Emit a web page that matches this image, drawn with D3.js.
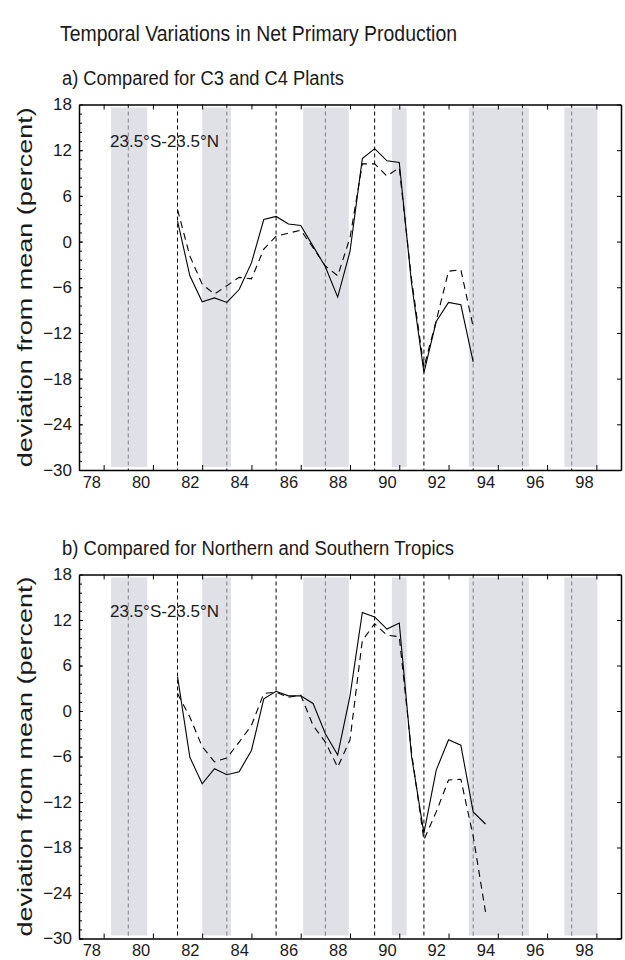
<!DOCTYPE html>
<html>
<head>
<meta charset="utf-8">
<script src="https://cdn.jsdelivr.net/npm/d3@7"></script>
<style>
  body { margin: 0; background: #fff; }
  text { font-family: "Liberation Sans", Arial, Helvetica, sans-serif; fill: #1a1a1a; }
</style>
</head>
<body>
<script>
// half-year time steps (axis label units: "80" = 1980)
const years = [81.5, 82, 82.5, 83, 83.5, 84, 84.5, 85, 85.5, 86, 86.5, 87, 87.5,
               88, 88.5, 89, 89.5, 90, 90.5, 91, 91.5, 92, 92.5, 93, 93.5, 94];

// a) C3 vs C4 plants (percent deviation)
const c3Values = [2.7, -4.5, -7.9, -7.4, -8.0, -6.3, -2.8, 2.9, 3.3, 2.3, 2.1, -0.6, -3.3,
                  -7.3, -1.3, 10.9, 12.2, 10.6, 10.4, -5.5, -17.2, -10.5, -8.0, -8.3, -15.8];
const c4Values = [4.2, -1.9, -5.6, -6.9, -5.8, -4.7, -4.9, -1.0, 0.7, 1.1, 1.5, -0.8, -3.2,
                  -4.5, 0.5, 10.2, 10.2, 8.6, 9.7, -5.0, -16.5, -10.4, -3.9, -3.7, -11.2];

// b) northern vs southern tropics
const northValues = [4.5, -6.1, -9.6, -7.6, -8.4, -8.0, -5.2, 1.6, 2.6, 2.0, 2.0, 1.0, -3.0,
                     -5.8, 2.0, 13.0, 12.4, 10.8, 11.6, -6.0, -16.1, -7.8, -3.8, -4.5, -13.3, -14.9];
const southValues = [2.3, -0.8, -4.7, -6.7, -6.2, -4.1, -1.9, 2.3, 2.5, 1.8, 2.1, -1.9, -4.1,
                     -7.4, -3.8, 9.3, 11.5, 10.0, 9.8, -5.5, -17.0, -13.3, -9.1, -9.0, -16.5, -26.5];

// shaded periods and dashed year markers
const bands = [[78.8, 80.27], [82.5, 83.67], [86.6, 88.45], [90.2, 90.8], [93.32, 95.76], [97.2, 98.54]];
const markerYears = [79.5, 81.5, 83.5, 85.5, 87.5, 89.5, 91.5, 93.5, 95.5, 97.5];

const xLabels = [78, 80, 82, 84, 86, 88, 90, 92, 94, 96, 98];
const xTickMarks = [78.5, 80.5, 82.5, 84.5, 86.5, 88.5, 90.5, 92.5, 94.5, 96.5, 98.5];
const yTicks = [18, 12, 6, 0, -6, -12, -18, -24, -30];

const W = 625, H = 960;
const svg = d3.select("body").append("svg").attr("width", W).attr("height", H);

const x = d3.scaleLinear().domain([77.5, 99.5]).range([79, 621]);

svg.append("text")
  .attr("x", 60).attr("y", 41)
  .attr("font-size", 22)
  .attr("textLength", 397).attr("lengthAdjust", "spacingAndGlyphs")
  .text("Temporal Variations in Net Primary Production");

const panels = [
  { top: 104.5, bottom: 470, title: "a) Compared for C3 and C4 Plants", titleLen: 282,
    solid: c3Values, dashed: c4Values },
  { top: 574.5, bottom: 938.5, title: "b) Compared for Northern and Southern Tropics", titleLen: 392,
    solid: northValues, dashed: southValues }
];

panels.forEach(p => {
  const y = d3.scaleLinear().domain([-30, 18]).range([p.bottom, p.top]);
  const g = svg.append("g");

  g.append("text")
    .attr("x", 62).attr("y", p.top - 20)
    .attr("font-size", 20)
    .attr("textLength", p.titleLen).attr("lengthAdjust", "spacingAndGlyphs")
    .text(p.title);

  // dashed markers sit under the shading
  g.selectAll(".marker").data(markerYears).join("line")
    .attr("x1", d => x(d)).attr("x2", d => x(d))
    .attr("y1", y(18)).attr("y2", y(-30))
    .attr("stroke", "#000").attr("stroke-width", 1)
    .attr("stroke-dasharray", "4,3");

  g.selectAll(".band").data(bands).join("rect")
    .attr("x", d => x(d[0])).attr("width", d => x(d[1]) - x(d[0]))
    .attr("y", y(17.6)).attr("height", y(-29.6) - y(17.6))
    .attr("fill", "#cdced6").attr("fill-opacity", 0.62);

  g.append("text")
    .attr("x", 110).attr("y", p.top + 42)
    .attr("font-size", 17)
    .text("23.5°S-23.5°N");

  const line = d3.line().x((d, i) => x(years[i])).y(d => y(d));

  g.append("path").datum(p.solid)
    .attr("d", line).attr("fill", "none")
    .attr("stroke", "#000").attr("stroke-width", 1.1);

  g.append("path").datum(p.dashed)
    .attr("d", line).attr("fill", "none")
    .attr("stroke", "#000").attr("stroke-width", 1.1)
    .attr("stroke-dasharray", "7,5");

  // axes
  const left = g.append("g").attr("transform", `translate(${x(77.5)},0)`)
    .call(d3.axisLeft(y).tickValues(yTicks).tickSize(-4).tickSizeOuter(0).tickPadding(7));
  left.selectAll("text").attr("font-size", 17);

  g.append("g").attr("transform", `translate(${x(77.5)},0)`)
    .call(d3.axisLeft(y).tickValues(d3.range(-30, 18, 1.2)).tickSize(-3).tickSizeOuter(0).tickFormat(""))
    .select(".domain").remove();

  g.append("g").attr("transform", `translate(${x(99.5)},0)`)
    .call(d3.axisRight(y).tickValues(yTicks).tickSize(-4).tickSizeOuter(0).tickFormat(""));

  g.append("g").attr("transform", `translate(0,${y(18)})`)
    .call(d3.axisTop(x).tickValues(xTickMarks).tickSize(-5).tickSizeOuter(0).tickFormat(""));

  g.append("g").attr("transform", `translate(0,${y(-30)})`)
    .call(d3.axisBottom(x).tickValues(xTickMarks).tickSize(-5).tickSizeOuter(0).tickFormat(""));

  const lab = g.append("g").attr("transform", `translate(0,${y(-30)})`)
    .call(d3.axisBottom(x).tickValues(xLabels).tickSize(0).tickPadding(6));
  lab.select(".domain").remove();
  lab.selectAll("text").attr("font-size", 16.5);

  g.selectAll(".domain").attr("stroke", "#000").attr("stroke-width", 1.5);
  g.selectAll(".tick line").attr("stroke", "#000");
  g.selectAll(".tick text").attr("fill", "#1a1a1a").attr("font-family", "Liberation Sans, Arial, sans-serif");

  const mid = (p.top + p.bottom) / 2;
  g.append("text")
    .attr("transform", `translate(32,${mid}) rotate(-90)`)
    .attr("text-anchor", "middle")
    .attr("font-size", 21)
    .attr("textLength", 360).attr("lengthAdjust", "spacingAndGlyphs")
    .text("deviation from mean (percent)");
});
</script>
</body>
</html>
